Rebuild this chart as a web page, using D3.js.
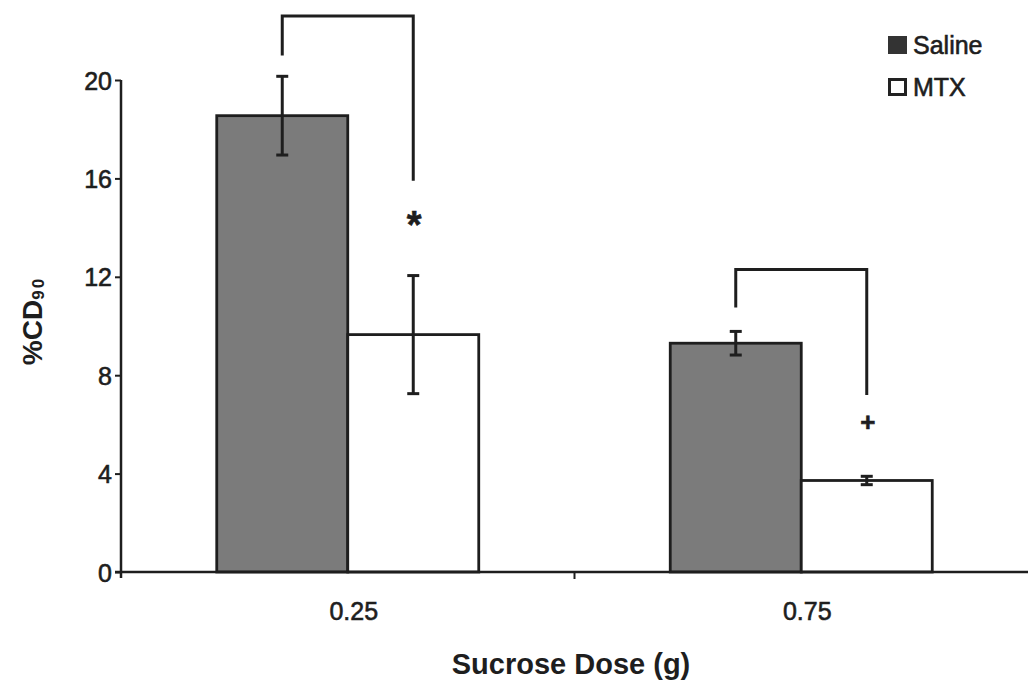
<!DOCTYPE html>
<html>
<head>
<meta charset="utf-8">
<script src="https://cdn.jsdelivr.net/npm/d3@7"></script>
<style>
  body { margin: 0; background: #fff; }
  text { font-family: "Liberation Sans", Arial, sans-serif; fill: #1e1e1e; }
  .thick { stroke: #1e1e1e; stroke-width: 0.6px; }
</style>
</head>
<body>
<div id="graph"></div>
<script>
// sucrose dose chart
var doses = ["0.25", "0.75"];
var groups = ["Saline", "MTX"];
var salineMeans = [18.55, 9.3];
var salineErr = [1.6, 0.48];
var mtxMeans = [9.65, 3.72];
var mtxErr = [2.4, 0.17];
var yTicks = [0, 4, 8, 12, 16, 20];
// brackets: top level, left end, right end, mark level (in %CD90 units)
var bracketTop = [22.6, 12.3];
var bracketLeft = [21.0, 10.75];
var bracketRight = [15.9, 7.2];
var markLevel = [14.0, 5.8];
var marks = ["*", "+"];

(function() {
	var graph = {
		width: 1028,
		height: 681,
		left: 121,
		right: 1028,
		top: 80,
		bottom: 572,
		svg: null,
		xScale: null,
		yScale: null
	};

	graph.svg = d3.select("#graph").append("svg")
		.attr("width", graph.width)
		.attr("height", graph.height);

	graph.xScale = d3.scaleBand()
		.domain(doses)
		.range([graph.left, graph.right]);

	graph.yScale = d3.scaleLinear()
		.domain([0, 20])
		.range([graph.bottom, graph.top]);

	var barW = 131;
	var rows = doses.map(function(d, i) {
		return [
			{ dose: d, group: "Saline", mean: salineMeans[i], err: salineErr[i] },
			{ dose: d, group: "MTX", mean: mtxMeans[i], err: mtxErr[i] }
		];
	});
	var flat = d3.merge(rows);

	var bx = function(d) {
		var c = graph.xScale(d.dose) + graph.xScale.bandwidth() / 2;
		return d.group === "Saline" ? c - barW : c;
	};

	// bars
	graph.svg.append("g").selectAll("rect")
		.data(flat)
		.enter().append("rect")
		.attr("x", bx)
		.attr("y", function(d) { return graph.yScale(d.mean); })
		.attr("width", barW)
		.attr("height", function(d) { return graph.yScale(0) - graph.yScale(d.mean); })
		.attr("fill", function(d) { return d.group === "Saline" ? "#7b7b7b" : "#fff"; })
		.attr("stroke", "#1e1e1e")
		.attr("stroke-width", 2.8);

	// error bars
	var eb = graph.svg.append("g").attr("stroke", "#1e1e1e").attr("stroke-width", 3);
	flat.forEach(function(d) {
		var cx = bx(d) + barW / 2;
		var y1 = graph.yScale(d.mean + d.err), y2 = graph.yScale(d.mean - d.err);
		eb.append("line").attr("x1", cx).attr("x2", cx).attr("y1", y1).attr("y2", y2);
		eb.append("line").attr("x1", cx - 6).attr("x2", cx + 6).attr("y1", y1).attr("y2", y1);
		eb.append("line").attr("x1", cx - 6).attr("x2", cx + 6).attr("y1", y2).attr("y2", y2);
	});

	// significance brackets
	doses.forEach(function(d, i) {
		var c = graph.xScale(d) + graph.xScale.bandwidth() / 2;
		var xl = c - barW / 2, xr = c + barW / 2;
		var path = d3.path();
		path.moveTo(xl, graph.yScale(bracketLeft[i]));
		path.lineTo(xl, graph.yScale(bracketTop[i]));
		path.lineTo(xr, graph.yScale(bracketTop[i]));
		path.lineTo(xr, graph.yScale(bracketRight[i]));
		graph.svg.append("path")
			.attr("d", path.toString())
			.attr("fill", "none")
			.attr("stroke", "#1e1e1e")
			.attr("stroke-width", 3);
		graph.svg.append("text")
			.attr("class", "thick")
			.attr("x", xr + 1)
			.attr("y", graph.yScale(markLevel[i]) + (i === 0 ? 10 : 2))
			.attr("text-anchor", "middle")
			.style("font-size", i === 0 ? "38px" : "26px")
			.style("font-weight", "bold")
			.text(marks[i]);
	});

	// y axis
	var yAxis = d3.axisLeft(graph.yScale).tickValues(yTicks).tickSize(6).tickPadding(3);
	var gy = graph.svg.append("g")
		.attr("transform", "translate(" + graph.left + ",0)")
		.call(yAxis);
	gy.select(".domain").attr("d", "M0," + graph.top + "V" + (graph.bottom + 6))
		.attr("stroke", "#1e1e1e").attr("stroke-width", 2.5);
	gy.selectAll(".tick line").attr("stroke", "#1e1e1e").attr("stroke-width", 2);
	gy.selectAll(".tick text")
		.attr("class", "thick")
		.style("font-size", "25px")
		.attr("dy", "0.36em")
		.style("fill", "#1e1e1e");

	// x axis
	var gx = graph.svg.append("g")
		.attr("transform", "translate(0," + graph.bottom + ")");
	gx.append("line")
		.attr("x1", graph.left - 6).attr("x2", graph.right)
		.attr("stroke", "#1e1e1e").attr("stroke-width", 2.5);
	gx.selectAll("line.tk")
		.data(doses.slice(1))
		.enter().append("line")
		.attr("class", "tk")
		.attr("x1", function(d) { return graph.xScale(d); })
		.attr("x2", function(d) { return graph.xScale(d); })
		.attr("y1", 0).attr("y2", 7)
		.attr("stroke", "#1e1e1e").attr("stroke-width", 2);
	gx.selectAll("text.lbl")
		.data(doses)
		.enter().append("text")
		.attr("class", "lbl thick")
		.attr("x", function(d) { return graph.xScale(d) + graph.xScale.bandwidth() / 2 + 6; })
		.attr("y", 48)
		.attr("text-anchor", "middle")
		.style("font-size", "25px")
		.text(function(d) { return d; });

	// axis titles
	graph.svg.append("text")
		.attr("x", 571)
		.attr("y", 674)
		.attr("text-anchor", "middle")
		.style("font-size", "29px")
		.style("font-weight", "bold")
		.text("Sucrose Dose (g)");

	var yt = graph.svg.append("text")
		.attr("transform", "translate(42,321) rotate(-90)")
		.attr("text-anchor", "middle")
		.style("font-size", "28px")
		.style("font-weight", "bold");
	yt.append("tspan").text("%CD");
	yt.append("tspan").attr("dy", 2).style("font-size", "17px")
		.style("letter-spacing", "2px").text("90");

	// legend
	var lg = graph.svg.append("g").attr("transform", "translate(888,36)");
	groups.forEach(function(g, i) {
		var row = lg.append("g").attr("transform", "translate(0," + (i * 42) + ")");
		row.append("rect")
			.attr("x", i === 0 ? 0 : 1.5)
			.attr("y", i === 0 ? 0 : 1.5)
			.attr("width", i === 0 ? 19 : 16)
			.attr("height", i === 0 ? 18 : 15)
			.attr("fill", i === 0 ? "#333" : "#fff")
			.attr("stroke", "#222")
			.attr("stroke-width", i === 0 ? 0 : 3);
		row.append("text")
			.attr("class", "thick")
			.attr("x", 25)
			.attr("y", 18)
			.style("font-size", "25px")
			.text(g);
	});
})();
</script>
</body>
</html>
